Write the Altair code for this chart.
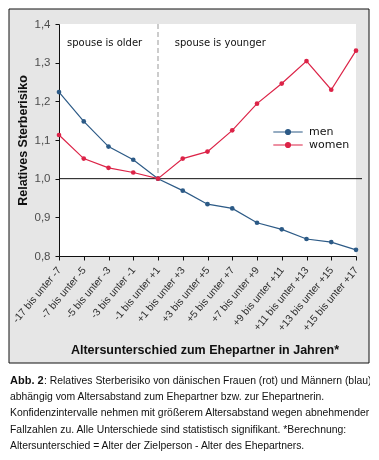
import altair as alt
import pandas as pd

categories = ["-17 bis unter -7", "-7 bis unter -5", "-5 bis unter -3", "-3 bis unter -1",
              "-1 bis unter +1", "+1 bis unter +3", "+3 bis unter +5", "+5 bis unter +7",
              "+7 bis unter +9", "+9 bis unter +11", "+11 bis unter +13", "+13 bis unter +15",
              "+15 bis unter +17"]
men = [1.224, 1.148, 1.083, 1.049, 1.0, 0.969, 0.934, 0.923, 0.886, 0.869, 0.844, 0.836, 0.816]
women = [1.113, 1.052, 1.028, 1.016, 1.0, 1.052, 1.070, 1.125, 1.194, 1.246, 1.304, 1.230, 1.331]
series_names = ["men", "women"]
y_ticks = [0.8, 0.9, 1.0, 1.1, 1.2, 1.3, 1.4]
caption_bold = "Abb. 2"
caption_lines = [
    ": Relatives Sterberisiko von dänischen Frauen (rot) und Männern (blau)",
    "abhängig vom Altersabstand zum Ehepartner bzw. zur Ehepartnerin.",
    "Konfidenzintervalle nehmen mit größerem Altersabstand wegen abnehmender",
    "Fallzahlen zu. Alle Unterschiede sind statistisch signifikant. *Berechnung:",
    "Altersunterschied =  Alter der Zielperson - Alter des Ehepartners.",
]

rows = []
for c, m, w in zip(categories, men, women):
    rows.append({"cat": c, "series": "men", "value": m})
    rows.append({"cat": c, "series": "women", "value": w})
df = pd.DataFrame(rows)

# the view is the framed grey box; the plot area sits inside it
VW, VH = 360, 354
PL, PT, PR, PB = 50, 15, 347, 247
BLUE = "#2c5a86"
RED = "#dc2347"
GRAY = "#e6e6e6"

xscale = alt.Scale(type="point", padding=0, domain=categories, range=[PL, PR])
yscale = alt.Scale(domain=[0.8, 1.4], nice=False, zero=False, range=[PB, PT])

one = pd.DataFrame({"k": [0]})
base1 = alt.Chart(one)


def grey_panel(x0, x1, y0, y1):
    # multiply blend keeps the axis texts underneath visible
    return base1.mark_rect(fill=GRAY, blend="multiply").encode(
        x=alt.value(x0), x2=alt.value(x1), y=alt.value(y0), y2=alt.value(y1))


panels = [grey_panel(0, VW, 0, PT), grey_panel(0, VW, PB, VH),
          grey_panel(0, PL, PT, PB), grey_panel(PR, VW, PT, PB)]


def frame_rule(x0, x1, y0, y1):
    return base1.mark_rule(color="#111", strokeWidth=1).encode(
        x=alt.value(x0), x2=alt.value(x1), y=alt.value(y0), y2=alt.value(y1))


frame = [frame_rule(0, VW, 0, 0), frame_rule(0, VW, VH, VH),
         frame_rule(0, 0, 0, VH), frame_rule(VW, VW, 0, VH)]

one_line = base1.mark_rule(color="#111", strokeWidth=1).encode(
    x=alt.value(PL), x2=alt.value(PR + 6), y=alt.datum(1.0, scale=yscale))

dashed = base1.mark_rule(color="#999", strokeWidth=1, strokeDash=[5, 3]).encode(
    x=alt.datum(categories[4], scale=xscale), y=alt.datum(1.4), y2=alt.datum(1.0))

sym = ("M-2.1,0H2.1"
       "M-0.36,0A0.36,0.36,0,1,0,0.36,0A0.36,0.36,0,1,0,-0.36,0"
       "M-0.22,0A0.22,0.22,0,1,0,0.22,0A0.22,0.22,0,1,0,-0.22,0"
       "M-0.08,0A0.08,0.08,0,1,0,0.08,0A0.08,0.08,0,1,0,-0.08,0")

lines = alt.Chart(df).mark_line(strokeWidth=1.2,
                                point=alt.OverlayMarkDef(filled=True, size=22)).encode(
    x=alt.X("cat:N", scale=xscale, sort=categories,
            axis=alt.Axis(title="Altersunterschied zum Ehepartner in Jahren*", labelAngle=-50,
                          offset=-(VH - PB), titleY=93, titleBaseline="middle",
                          titleX=(PL + PR) / 2 - 3,
                          labelFontSize=10.3, labelColor="#333", labelPadding=8,
                          tickSize=4, tickColor="#111", domainColor="#111")),
    y=alt.Y("value:Q", scale=yscale,
            axis=alt.Axis(title="Relatives Sterberisiko", values=y_ticks, offset=-PL,
                          labelExpr="replace(format(datum.value, '.1f'), '.', ',')",
                          labelFontSize=11.5, labelColor="#555", labelPadding=5,
                          tickSize=4, tickColor="#111", domainColor="#111", grid=False,
                          titleX=-37, titleY=(PT + PB) / 2, titleAngle=-90,
                          titleAlign="center", titleBaseline="middle")),
    color=alt.Color("series:N", scale=alt.Scale(domain=series_names, range=[BLUE, RED]),
                    legend=alt.Legend(title=None, orient="none", legendX=PL + 221,
                                      legendY=PT + 100,
                                      symbolType=sym, symbolSize=196, symbolStrokeWidth=1.2,
                                      labelFont="DejaVu Sans", labelFontSize=11,
                                      labelColor="#111", rowPadding=0, labelOffset=13)),
)

ann = pd.DataFrame({"cat": [categories[0], categories[5]],
                    "value": [1.35, 1.35],
                    "txt": ["spouse is older", "spouse is younger"]})
ann_text = alt.layer(
    alt.Chart(ann.iloc[[0]]).mark_text(font="DejaVu Sans", fontSize=10, align="left",
                                       baseline="middle", color="#111", dx=8).encode(
        x=alt.X("cat:N", scale=xscale), y=alt.Y("value:Q", scale=yscale), text="txt:N"),
    alt.Chart(ann.iloc[[1]]).mark_text(font="DejaVu Sans", fontSize=10, align="left",
                                       baseline="middle", color="#111", dx=-8).encode(
        x=alt.X("cat:N", scale=xscale), y=alt.Y("value:Q", scale=yscale), text="txt:N"),
)

cap_font = "Liberation Sans"
cap_size = 10.4
cap_layers = [
    alt.Chart(pd.DataFrame({"t": [caption_bold]})).mark_text(
        font=cap_font, fontSize=cap_size + 0.6, fontWeight="bold", align="left",
        baseline="middle", color="#111").encode(x=alt.value(1), y=alt.value(372), text="t:N")
]
ys = [372, 388, 404, 421, 437]
for i, (line, yy) in enumerate(zip(caption_lines, ys)):
    cap_layers.append(
        alt.Chart(pd.DataFrame({"t": [line]})).mark_text(
            font=cap_font, fontSize=cap_size, align="left", baseline="middle",
            color="#111").encode(
            x=alt.value(35 if i == 0 else 1), y=alt.value(yy), text="t:N"))

chart = alt.layer(*panels, *frame, one_line, dashed, lines, ann_text, *cap_layers).properties(
    width=VW, height=VH, padding={"left": 1, "top": 1, "right": 1, "bottom": 96},
    autosize=alt.AutoSizeParams(type="none"),
    background="white",
).configure_view(stroke=None).configure_axis(
    labelFont="Liberation Sans", titleFont="Liberation Sans", titleFontSize=12.5,
    titleFontWeight="bold", titleColor="#111")

chart.save("out.html", embed_options={"renderer": "svg", "actions": False})
